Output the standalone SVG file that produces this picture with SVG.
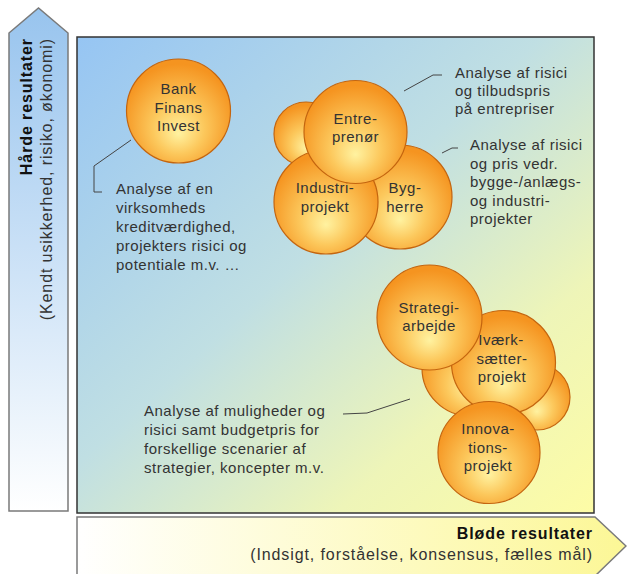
<svg xmlns="http://www.w3.org/2000/svg" width="627" height="574" viewBox="0 0 627 574">
<defs>
<linearGradient id="bg" x1="0" y1="0" x2="1" y2="1">
<stop offset="0" stop-color="#96c5f3"/>
<stop offset="0.45" stop-color="#c0dfe3"/>
<stop offset="0.75" stop-color="#eef5b8"/>
<stop offset="1" stop-color="#fdfca6"/>
</linearGradient>
<linearGradient id="vg" x1="0" y1="0" x2="0" y2="1">
<stop offset="0" stop-color="#98c4ee"/>
<stop offset="1" stop-color="#ffffff"/>
</linearGradient>
<linearGradient id="hg" x1="0" y1="0" x2="1" y2="0">
<stop offset="0" stop-color="#ffffff"/>
<stop offset="1" stop-color="#fcf796"/>
</linearGradient>
<radialGradient id="ball" cx="0.5" cy="0.6" r="0.55" fx="0.5" fy="0.72">
<stop offset="0" stop-color="#fff2a0"/>
<stop offset="0.45" stop-color="#fcc85c"/>
<stop offset="1" stop-color="#f59420"/>
</radialGradient>
</defs>
<style>
.ball{fill:url(#ball);stroke:#c4650f;stroke-width:1.2}
.t{font-family:"Liberation Sans",Arial,sans-serif;font-size:15px;letter-spacing:0.5px;fill:#333}
.ax{font-size:16px;letter-spacing:0.9px}
.c{text-anchor:middle}
.b{font-weight:bold;fill:#111}
.lead{fill:none;stroke:#444;stroke-width:1}
</style>

<g id="vertical-axis">
<path d="M9,33 L38.5,8 L68,33 L68,511 L9,511 Z" fill="url(#vg)" stroke="#7a7a7a" stroke-width="1.5"/>
<text class="t ax b" transform="translate(32,38) rotate(-90)" text-anchor="end">Hårde resultater</text>
<text class="t ax" transform="translate(52,38) rotate(-90)" text-anchor="end">(Kendt usikkerhed, risiko, økonomi)</text>
</g>

<g id="main-area">
<rect x="77" y="37" width="517" height="476" fill="url(#bg)" stroke="#333" stroke-width="1.5"/>
</g>

<g id="horizontal-axis">
<path d="M77,517 L595,517 L626,546 L595,576 L77,576 Z" fill="url(#hg)" stroke="#7a7a7a" stroke-width="1.5"/>
<text class="t ax b" x="593" y="539" text-anchor="end">Bløde resultater</text>
<text class="t ax" x="593" y="560" text-anchor="end">(Indsigt, forståelse, konsensus, fælles mål)</text>
</g>

<g id="connectors">
<path class="lead" d="M131,140 L94,166 L94,192 L102,192"/>
<path class="lead" d="M404,91 L433,75 L442,75"/>
<path class="lead" d="M442,153 L452,148 L458,148"/>
<path class="lead" d="M343,414 L367,413 L410,399"/>
</g>

<g id="bank">
<circle class="ball" cx="178.5" cy="111" r="52"/>
<text class="t c" x="178.5" y="94">Bank</text>
<text class="t c" x="178.5" y="112.5">Finans</text>
<text class="t c" x="178.5" y="131">Invest</text>
</g>

<g id="entreprise-back">
<circle class="ball" cx="306" cy="134" r="32"/>
</g>
<g id="bygherre">
<circle class="ball" cx="400" cy="197" r="52"/>
<text class="t c" x="405" y="193">Byg-</text>
<text class="t c" x="405" y="211.5">herre</text>
</g>
<g id="industriprojekt">
<circle class="ball" cx="326" cy="202" r="52"/>
<text class="t c" x="325" y="193">Industri-</text>
<text class="t c" x="325" y="211.5">projekt</text>
</g>
<g id="entreprenoer">
<circle class="ball" cx="355.5" cy="132" r="51.5"/>
<text class="t c" x="355.5" y="124">Entre-</text>
<text class="t c" x="355.5" y="142">prenør</text>
</g>

<g id="strategy-back-left">
<circle class="ball" cx="470" cy="368" r="48"/>
</g>
<g id="strategy-back-right">
<circle class="ball" cx="537" cy="397" r="33"/>
</g>
<g id="ivaerksaetter">
<circle class="ball" cx="503.5" cy="362.5" r="52"/>
<text class="t c" x="501" y="345">Iværk-</text>
<text class="t c" x="502" y="363.5">sætter-</text>
<text class="t c" x="502" y="382">projekt</text>
</g>
<g id="strategiarbejde">
<circle class="ball" cx="429.5" cy="317.5" r="52.5"/>
<text class="t c" x="429" y="313">Strategi-</text>
<text class="t c" x="429" y="331">arbejde</text>
</g>
<g id="innovationsprojekt">
<circle class="ball" cx="489" cy="452.5" r="51"/>
<text class="t c" x="488" y="434">Innova-</text>
<text class="t c" x="488" y="452.5">tions-</text>
<text class="t c" x="488" y="471">projekt</text>
</g>

<g id="note-entreprise">
<text class="t" x="455" y="78">Analyse af risici</text>
<text class="t" x="455" y="96">og tilbudspris</text>
<text class="t" x="455" y="114">på entrepriser</text>
</g>
<g id="note-bygge">
<text class="t" x="470" y="150">Analyse af risici</text>
<text class="t" x="470" y="168.5">og pris vedr.</text>
<text class="t" x="470" y="187">bygge-/anlægs-</text>
<text class="t" x="470" y="205.5">og industri-</text>
<text class="t" x="470" y="224">projekter</text>
</g>
<g id="note-bank">
<text class="t" x="116" y="194">Analyse af en</text>
<text class="t" x="116" y="213">virksomheds</text>
<text class="t" x="116" y="232">kreditværdighed,</text>
<text class="t" x="116" y="251">projekters risici og</text>
<text class="t" x="116" y="270">potentiale m.v. …</text>
</g>
<g id="note-strategy">
<text class="t" x="144" y="416">Analyse af muligheder og</text>
<text class="t" x="144" y="435">risici samt budgetpris for</text>
<text class="t" x="144" y="454">forskellige scenarier af</text>
<text class="t" x="144" y="473">strategier, koncepter m.v.</text>
</g>
</svg>
